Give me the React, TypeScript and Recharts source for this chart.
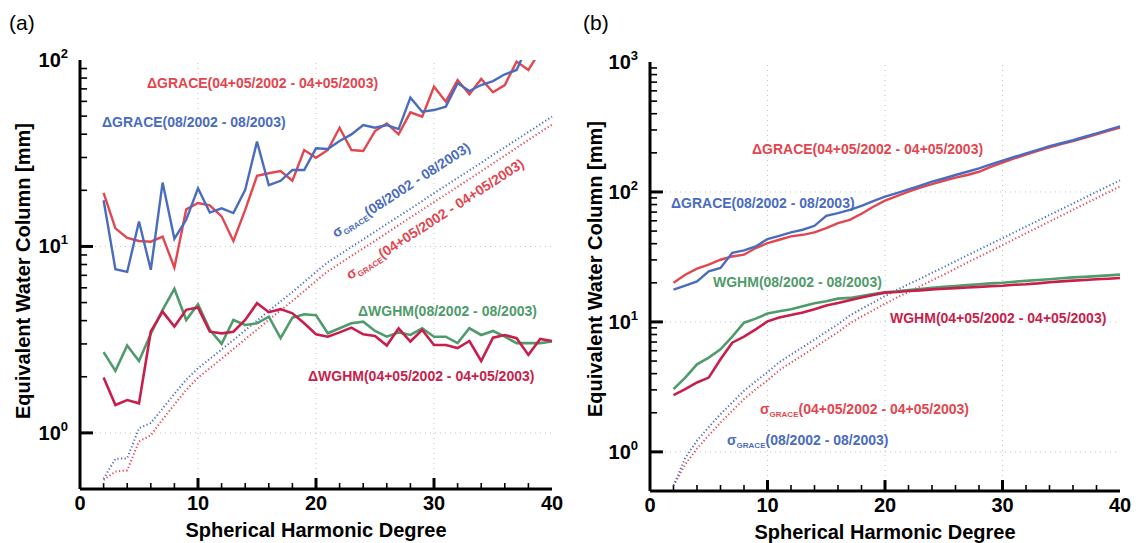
import { Line, LineChart, ReferenceLine, XAxis, YAxis } from "recharts";

const DEGREES = [2, 3, 4, 5, 6, 7, 8, 9, 10, 11, 12, 13, 14, 15, 16, 17, 18, 19, 20, 21, 22, 23, 24, 25, 26, 27, 28, 29, 30, 31, 32, 33, 34, 35, 36, 37, 38, 39, 40];

// panel (a): degree variances of the differences
const GRACE_AUG_A = [17.7, 7.55, 7.3, 13.6, 7.5, 22, 11, 13.9, 20.5, 15.2, 16, 15.1, 20.1, 36.5, 21.3, 22.5, 25.7, 25.7, 33.6, 33.3, 36.8, 39.9, 44.8, 43.3, 44.8, 42.6, 62.8, 52.8, 53.9, 56.2, 75, 68.2, 73.4, 77.1, 83.8, 88.4, 122, 128, 135];
const GRACE_APR_A = [19.4, 12.5, 11.1, 10.7, 10.6, 11.3, 7.7, 15.8, 17.1, 16.6, 14.5, 10.7, 15.7, 23.9, 24.7, 25.4, 22.5, 32.9, 29.9, 32.9, 43.3, 32.9, 32.5, 41.6, 45.7, 39.9, 52.4, 49.7, 71.9, 59.8, 78.1, 65.5, 79.1, 67.1, 73.4, 98, 88.4, 112, 125];
const SIGMA_AUG_A = [0.567, 0.726, 0.73, 1.06, 1.13, 1.35, 1.62, 1.93, 2.22, 2.49, 2.8, 3.15, 3.55, 4.0, 4.51, 5.07, 5.7, 6.45, 7.3, 8.22, 9.03, 9.94, 10.9, 12.0, 13.2, 14.5, 15.9, 17.5, 19.3, 21.2, 23.3, 25.6, 28.1, 31.0, 34.0, 37.4, 41.1, 45.2, 49.7];
const SIGMA_APR_A = [0.56, 0.62, 0.63, 0.9, 0.97, 1.18, 1.42, 1.7, 1.98, 2.22, 2.5, 2.82, 3.18, 3.58, 4.04, 4.54, 5.1, 5.77, 6.53, 7.36, 8.08, 8.9, 9.76, 10.7, 11.8, 13.0, 14.3, 15.7, 17.3, 19.0, 20.9, 23.0, 25.3, 27.9, 30.7, 33.8, 37.3, 41.0, 45.0];
const WGHM_AUG_A = [2.71, 2.15, 2.94, 2.43, 3.4, 4.57, 5.92, 4.03, 4.9, 3.57, 3.0, 4.03, 3.79, 3.87, 4.2, 3.22, 4.15, 4.33, 4.28, 3.42, 3.64, 3.87, 3.95, 3.52, 3.28, 3.46, 3.35, 3.64, 3.28, 3.28, 3.03, 3.64, 3.35, 3.52, 3.28, 3.03, 3.03, 3.03, 3.09];
const WGHM_APR_A = [1.98, 1.41, 1.5, 1.44, 3.5, 4.47, 3.72, 4.57, 4.7, 3.49, 3.42, 3.49, 4.03, 4.96, 4.44, 4.61, 4.38, 3.87, 3.38, 3.28, 3.46, 3.67, 3.38, 3.31, 2.94, 3.64, 3.09, 3.57, 2.96, 2.96, 2.85, 3.11, 2.43, 3.24, 3.35, 3.22, 2.62, 3.19, 3.11];

// panel (b): signals
const GRACE_AUG_B = [17.7, 19.0, 20.5, 24.5, 26.0, 34.0, 35.5, 38.1, 43.4, 46.0, 48.8, 51.2, 54.9, 65.5, 68.7, 72.8, 78, 85, 92.1, 98, 104.8, 112, 120, 127, 135, 143, 152, 163, 174, 186, 198, 211, 225, 237, 250, 266, 282, 300, 320];
const GRACE_APR_B = [20.0, 23.1, 25.7, 27.6, 30.1, 31.9, 32.9, 37.0, 40.4, 42.9, 45.5, 46.8, 48.8, 52.7, 57.5, 61.0, 68, 77, 85.8, 93, 100.5, 108, 115, 122, 129, 135, 143, 156, 168, 181, 194, 207, 220, 233, 246, 261, 277, 295, 313];
const SIGMA_AUG_B = [0.55, 0.9, 1.22, 1.55, 1.95, 2.4, 2.95, 3.5, 4.1, 4.9, 5.6, 6.4, 7.3, 8.4, 9.6, 11.2, 12.6, 14.1, 15.8, 17.6, 19.5, 21.5, 23.9, 26.4, 29.3, 32.5, 36.0, 39.8, 44.1, 48.9, 54.2, 60.0, 66.5, 73.6, 81.6, 90.4, 100.2, 110.9, 122.7];
const SIGMA_APR_B = [0.55, 0.8, 1.06, 1.34, 1.68, 2.07, 2.55, 3.03, 3.55, 4.25, 4.86, 5.55, 6.35, 7.3, 8.35, 9.75, 11.0, 12.3, 13.8, 15.4, 17.0, 18.8, 20.9, 23.1, 25.7, 28.6, 31.7, 35.1, 39.0, 43.3, 48.1, 53.3, 59.2, 65.6, 72.9, 80.9, 89.6, 99.5, 110];
const WGHM_AUG_B = [3.04, 3.73, 4.72, 5.31, 6.15, 7.7, 9.86, 10.6, 11.6, 12.1, 12.5, 13.2, 13.9, 14.4, 15.1, 15.3, 15.8, 16.4, 16.9, 17.2, 17.6, 17.9, 18.3, 18.6, 18.9, 19.2, 19.5, 19.8, 20.0, 20.4, 20.7, 21.0, 21.3, 21.7, 22.0, 22.2, 22.5, 22.8, 23.1];
const WGHM_APR_B = [2.73, 3.04, 3.42, 3.73, 5.16, 6.92, 7.7, 8.76, 10.1, 10.8, 11.3, 11.8, 12.5, 13.4, 14.0, 14.7, 15.4, 16.1, 16.8, 17.0, 17.3, 17.5, 17.8, 18.0, 18.2, 18.4, 18.6, 18.8, 19.0, 19.3, 19.5, 19.8, 20.2, 20.5, 20.8, 21.0, 21.3, 21.5, 21.8];

const X_LABELS = [0, 10, 20, 30, 40];
const X_MAJOR = [10, 20, 30];
const X_MINOR = [2, 4, 6, 8, 12, 14, 16, 18, 22, 24, 26, 28, 32, 34, 36, 38];
const Y_LABELS_A = [1, 10, 100];
const Y_LABELS_B = [1, 10, 100, 1000];
const Y_MINOR_A = [2, 3, 4, 5, 6, 7, 8, 9, 20, 30, 40, 50, 60, 70, 80, 90];
const Y_MINOR_B = [2, 3, 4, 5, 6, 7, 8, 9, 20, 30, 40, 50, 60, 70, 80, 90, 200, 300, 400, 500, 600, 700, 800, 900];
const DECADES_A = [1, 10];
const DECADES_B = [1, 10, 100];

const FONT = '"Liberation Sans", Arial, Helvetica, sans-serif';
const BLUE = "#4a6cbf";
const RED = "#e2464f";
const GREEN = "#4f9b6b";
const CRIMSON = "#c81e4b";
const DOTS = "1.2 2.4";

const dataA = DEGREES.map((n, i) => ({
  n,
  gAug: GRACE_AUG_A[i],
  gApr: GRACE_APR_A[i],
  sAug: SIGMA_AUG_A[i],
  sApr: SIGMA_APR_A[i],
  wAug: WGHM_AUG_A[i],
  wApr: WGHM_APR_A[i],
}));

const dataB = DEGREES.map((n, i) => ({
  n,
  gAug: GRACE_AUG_B[i],
  gApr: GRACE_APR_B[i],
  sAug: SIGMA_AUG_B[i],
  sApr: SIGMA_APR_B[i],
  wAug: WGHM_AUG_B[i],
  wApr: WGHM_APR_B[i],
}));

function YLabel(props: any) {
  const { x, y, payload } = props;
  const exp = Math.round(Math.log10(payload.value));
  return (
    <text x={x - 12} y={y + 7} textAnchor="end" fontFamily={FONT} fontWeight="bold" fontSize={20} fill="#000">
      10
      <tspan dy={-9} fontSize={13}>
        {exp}
      </tspan>
    </text>
  );
}

function XLabel(props: any) {
  const { x, y, payload } = props;
  return (
    <text x={x} y={y + 21} textAnchor="middle" fontFamily={FONT} fontWeight="bold" fontSize={20} fill="#000">
      {payload.value}
    </text>
  );
}

// inward tick marks are drawn as short segments in data space
function Panel({ data, yDomain, yLabels, yMinor, decades, tickTop, width, height, margin, xAxisH }: any) {
  const bottom = yDomain[0];
  return (
    <LineChart width={width} height={height} data={data} margin={margin}>
      {[10, 20, 30].map((v) => (
        <ReferenceLine key={"gx" + v} x={v} stroke="#c4c4c4" strokeDasharray="1 4" />
      ))}
      {decades.map((v: number) => (
        <ReferenceLine key={"gy" + v} y={v} stroke="#c4c4c4" strokeDasharray="1 4" />
      ))}
      <XAxis
        dataKey="n"
        type="number"
        domain={[0, 40]}
        ticks={X_LABELS}
        interval={0}
        tickSize={0}
        tickMargin={0}
        tickLine={false}
        tick={(p: any) => <XLabel {...p} />}
        axisLine={{ stroke: "#000", strokeWidth: 3 }}
        height={xAxisH}
      />
      <XAxis xAxisId="top" orientation="top" type="number" domain={[0, 40]} height={0} tick={false} tickLine={false} axisLine={{ stroke: "#000", strokeWidth: 2 }} />
      <YAxis
        type="number"
        scale="log"
        domain={yDomain}
        allowDataOverflow
        ticks={yLabels}
        interval={0}
        tickSize={0}
        tickMargin={0}
        tickLine={false}
        tick={(p: any) => <YLabel {...p} />}
        axisLine={{ stroke: "#000", strokeWidth: 3 }}
        width={80}
      />
      <YAxis yAxisId="right" orientation="right" type="number" domain={[0, 1]} width={0} tick={false} tickLine={false} axisLine={{ stroke: "#000", strokeWidth: 2 }} />
      {decades.map((v: number) => (
        <ReferenceLine key={"ty" + v} segment={[{ x: 0, y: v }, { x: 1.1, y: v }]} stroke="#000" strokeWidth={3} />
      ))}
      {yMinor.map((v: number) => (
        <ReferenceLine key={"my" + v} segment={[{ x: 0, y: v }, { x: 0.6, y: v }]} stroke="#000" strokeWidth={1.6} />
      ))}
      {X_MAJOR.map((v) => (
        <ReferenceLine key={"tx" + v} segment={[{ x: v, y: bottom }, { x: v, y: tickTop[0] }]} stroke="#000" strokeWidth={3} />
      ))}
      {X_MINOR.map((v) => (
        <ReferenceLine key={"mx" + v} segment={[{ x: v, y: bottom }, { x: v, y: tickTop[1] }]} stroke="#000" strokeWidth={1.6} />
      ))}
      <Line type="linear" dataKey="sApr" stroke={RED} strokeWidth={2} strokeDasharray={DOTS} dot={false} isAnimationActive={false} />
      <Line type="linear" dataKey="sAug" stroke={BLUE} strokeWidth={2} strokeDasharray={DOTS} dot={false} isAnimationActive={false} />
      <Line type="linear" dataKey="wAug" stroke={GREEN} strokeWidth={2.6} dot={false} isAnimationActive={false} />
      <Line type="linear" dataKey="wApr" stroke={CRIMSON} strokeWidth={2.6} dot={false} isAnimationActive={false} />
      <Line type="linear" dataKey="gApr" stroke={RED} strokeWidth={2.4} dot={false} isAnimationActive={false} />
      <Line type="linear" dataKey="gAug" stroke={BLUE} strokeWidth={2.4} dot={false} isAnimationActive={false} />
    </LineChart>
  );
}

function Note({ x, y, color, text, rotate }: any) {
  return (
    <text
      x={x}
      y={y}
      fill={color}
      fontFamily={FONT}
      fontWeight="bold"
      fontSize={14}
      transform={rotate ? `rotate(${rotate} ${x} ${y})` : undefined}
    >
      {text}
    </text>
  );
}

function Sigma({ x, y, color, period, rotate }: any) {
  return (
    <text
      x={x}
      y={y}
      fill={color}
      fontFamily={FONT}
      fontWeight="bold"
      fontSize={14}
      transform={rotate ? `rotate(${rotate} ${x} ${y})` : undefined}
    >
      σ
      <tspan fontSize={8} dy={3}>
        GRACE
      </tspan>
      <tspan dy={-3}>{period}</tspan>
    </text>
  );
}

export default function App() {
  const axisTitle = { fontFamily: FONT, fontWeight: "bold" as const, fontSize: 20, fill: "#000" };
  return (
    <div style={{ position: "absolute", left: 0, top: 0, width: 1138, height: 543, background: "#fff" }}>
      <div style={{ position: "absolute", left: 0, top: 0 }}>
        <Panel
          data={dataA}
          yDomain={[0.5, 100]}
          yLabels={Y_LABELS_A}
          yMinor={Y_MINOR_A}
          decades={DECADES_A}
          tickTop={[0.573, 0.538]}
          width={565}
          height={543}
          margin={{ top: 60, right: 13, bottom: 0, left: 0 }}
          xAxisH={54}
        />
      </div>
      <div style={{ position: "absolute", left: 570, top: 0 }}>
        <Panel
          data={dataB}
          yDomain={[0.5, 1000]}
          yLabels={Y_LABELS_B}
          yMinor={Y_MINOR_B}
          decades={DECADES_B}
          tickTop={[0.607, 0.556]}
          width={568}
          height={543}
          margin={{ top: 62, right: 18, bottom: 0, left: 0 }}
          xAxisH={52}
        />
      </div>
      <svg width={1138} height={543} style={{ position: "absolute", left: 0, top: 0, pointerEvents: "none" }}>
        <text x={9} y={30} fontFamily={FONT} fontSize={21} fill="#000">(a)</text>
        <text x={583} y={30} fontFamily={FONT} fontSize={21} fill="#000">(b)</text>

        <text x={30} y={271} textAnchor="middle" transform="rotate(-90 30 271)" {...axisTitle}>
          Equivalent Water Column [mm]
        </text>
        <text x={602} y={269} textAnchor="middle" transform="rotate(-90 602 269)" {...axisTitle}>
          Equivalent Water Column [mm]
        </text>
        <text x={316} y={537} textAnchor="middle" {...axisTitle}>
          Spherical Harmonic Degree
        </text>
        <text x={885} y={539} textAnchor="middle" {...axisTitle}>
          Spherical Harmonic Degree
        </text>

        <Note x={147} y={88} color={RED} text="ΔGRACE(04+05/2002 - 04+05/2003)" />
        <Note x={102} y={127} color={BLUE} text="ΔGRACE(08/2002 - 08/2003)" />
        <Note x={358} y={316} color={GREEN} text="ΔWGHM(08/2002 - 08/2003)" />
        <Note x={308} y={381} color={CRIMSON} text="ΔWGHM(04+05/2002 - 04+05/2003)" />
        <Sigma x={336} y={238} color={BLUE} period="(08/2002 - 08/2003)" rotate={-33} />
        <Sigma x={350} y={280} color={RED} period="(04+05/2002 - 04+05/2003)" rotate={-33} />

        <Note x={752} y={154} color={RED} text="ΔGRACE(04+05/2002 - 04+05/2003)" />
        <Note x={671} y={208} color={BLUE} text="ΔGRACE(08/2002 - 08/2003)" />
        <Note x={713} y={287} color={GREEN} text="WGHM(08/2002 - 08/2003)" />
        <Note x={890} y={323} color={CRIMSON} text="WGHM(04+05/2002 - 04+05/2003)" />
        <Sigma x={760} y={414} color={RED} period="(04+05/2002 - 04+05/2003)" />
        <Sigma x={727} y={445} color={BLUE} period="(08/2002 - 08/2003)" />
      </svg>
    </div>
  );
}
